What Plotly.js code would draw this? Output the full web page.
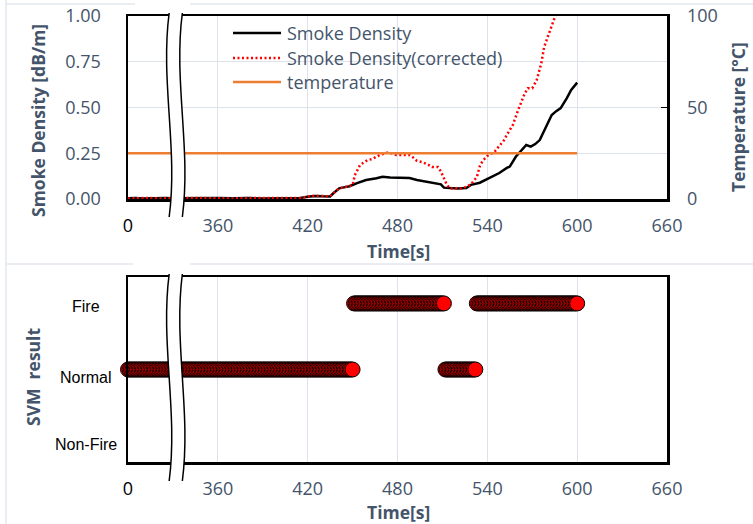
<!DOCTYPE html>
<html>
<head>
<meta charset="utf-8">
<script src="https://cdn.plot.ly/plotly-3.0.1.min.js"></script>
<style>
  html, body { margin: 0; padding: 0; background: #ffffff; }
  #chart { width: 753px; height: 524px; }
</style>
</head>
<body>
<div id="chart"></div>
<script>
// Time axis runs 300–660 s; the first tick stands for the start of the record (0 s)
// and a squiggle marks the skipped interval just after it.
const tickVals = [300, 360, 420, 480, 540, 600, 660];
const tickText = ['0', '360', '420', '480', '540', '600', '660'];

// Smoke density [dB/m]
const smokeTime = [300, 305, 310, 315, 320, 325, 330, 340, 350, 360, 370, 380, 390, 400, 410, 415,
  420, 425, 430, 435, 437, 441, 445, 448, 453, 459, 466, 470, 475, 481, 488, 493, 500, 505, 509, 511,
  515, 520, 526, 529, 535, 541, 548, 553, 555, 559, 562, 566, 569, 572, 575, 579, 583, 586, 589, 593, 596, 600];
const smokeDensity = [0.004, 0.006, 0.003, 0.005, 0.004, 0.006, 0.004, 0.005, 0.003, 0.005, 0.004, 0.006, 0.003, 0.005, 0.004, 0.006,
  0.012, 0.017, 0.015, 0.014, 0.030, 0.058, 0.065, 0.070, 0.087, 0.104, 0.113, 0.122, 0.118, 0.117, 0.115, 0.104, 0.095, 0.088, 0.080, 0.062,
  0.060, 0.058, 0.060, 0.077, 0.089, 0.113, 0.142, 0.170, 0.177, 0.231, 0.260, 0.295, 0.286, 0.300, 0.322, 0.395, 0.459, 0.480, 0.497, 0.550, 0.596, 0.636];

// Smoke density, corrected [dB/m]
const correctedTime = [300, 305, 310, 315, 320, 325, 330, 340, 350, 360, 370, 380, 390, 400, 410, 415,
  420, 425, 430, 435, 437, 441, 445, 448, 450, 451.5, 453, 455, 457, 460, 463, 466, 468, 473, 476, 479,
  483, 488, 490, 493, 497, 500, 503, 507, 509, 511, 513, 515, 519, 523, 526, 529, 533, 535, 537, 540,
  545, 548, 551, 553, 557, 561, 565, 567, 570, 573, 576, 578, 581, 585, 588];
const correctedDensity = [0.003, 0.005, 0.004, 0.006, 0.003, 0.005, 0.004, 0.006, 0.004, 0.005, 0.003, 0.005, 0.004, 0.006, 0.003, 0.005,
  0.013, 0.018, 0.016, 0.015, 0.030, 0.058, 0.066, 0.070, 0.075, 0.130, 0.158, 0.186, 0.197, 0.213, 0.218, 0.230, 0.240, 0.253, 0.250, 0.240,
  0.240, 0.240, 0.230, 0.208, 0.200, 0.190, 0.175, 0.175, 0.150, 0.110, 0.077, 0.058, 0.057, 0.058, 0.067, 0.080, 0.120, 0.180, 0.210, 0.235,
  0.260, 0.290, 0.320, 0.350, 0.404, 0.495, 0.577, 0.605, 0.605, 0.650, 0.740, 0.832, 0.905, 0.990, 1.060];

// Temperature [°C]
const tempTime = [300, 600];
const tempValue = [25, 25];

const seriesNames = ['Smoke Density', 'Smoke Density(corrected)', 'temperature'];

// SVM classification, one result per second, stored as runs
const svmCategories = ['Non-Fire', 'Normal', 'Fire'];
const svmRunStart = [300, 451, 512, 533];
const svmRunEnd = [450, 511, 532, 600];
const svmRunLabel = ['Normal', 'Fire', 'Normal', 'Fire'];

const svmTime = [], svmResult = [];
svmRunStart.forEach((s, i) => {
  for (let t = s; t <= svmRunEnd[i]; t++) { svmTime.push(t); svmResult.push(svmRunLabel[i]); }
});

// ---- geometry helpers (pixel -> paper) ----
const W = 753, H = 524;
const px = x => x / W;
const py = y => 1 - y / H;

const textBlue = '#44546a';
const gridCol = '#dde3ec';
const fontFam = '"Open Sans", "Noto Sans", sans-serif';
const dotted = '2px,2.5px';

const xCommon = {
  range: [300, 660], domain: [px(128), px(667)],
  tickvals: tickVals,
  ticktext: tickText.map(t => t === '0' ? '<span style="color:#000000">0</span>' : t),
  showgrid: true, gridcolor: gridCol, gridwidth: 1,
  showline: true, mirror: true, linecolor: '#000000', linewidth: 2.5,
  ticks: '', zeroline: false,
  tickfont: { family: fontFam, size: 18, color: textBlue },
  ticklabelstandoff: 9
};

const traces = [
  { x: tempTime, y: tempValue, name: seriesNames[2], type: 'scatter', mode: 'lines',
    xaxis: 'x', yaxis: 'y2', line: { color: '#ed7d31', width: 2.5 }, showlegend: false },
  { x: smokeTime, y: smokeDensity, name: seriesNames[0], type: 'scatter', mode: 'lines',
    xaxis: 'x', yaxis: 'y', line: { color: '#000000', width: 2.5 }, showlegend: false },
  { x: correctedTime, y: correctedDensity, name: seriesNames[1], type: 'scatter', mode: 'lines',
    xaxis: 'x', yaxis: 'y', line: { color: '#ff0000', width: 2.5, dash: dotted }, showlegend: false },
  { x: svmTime, y: svmResult, name: 'SVM result', type: 'scatter', mode: 'markers',
    xaxis: 'x2', yaxis: 'y3', cliponaxis: false, showlegend: false,
    marker: { size: 15, color: '#ff0000', line: { color: '#000000', width: 1 } } }
];

// axis break squiggle: white gap bounded by two wavy lines
const breakL = 327.5, breakR = 336.3, wave = 6;
function wavy(t, yT, yB) {
  const h = yB - yT;
  return `M ${t},${yT} C ${t - wave},${yT + h / 3} ${t + wave},${yT + 2 * h / 3} ${t},${yB}`;
}
function gap(yT, yB) {
  const h = yB - yT;
  return wavy(breakL, yT, yB) +
    ` L ${breakR},${yB} C ${breakR + wave},${yT + 2 * h / 3} ${breakR - wave},${yT + h / 3} ${breakR},${yT} Z`;
}
function breakShapes(xref, yT, yB) {
  return [
    { type: 'path', xref: xref, yref: 'paper', path: gap(yT, yB), fillcolor: '#ffffff', line: { width: 0 }, layer: 'above' },
    { type: 'path', xref: xref, yref: 'paper', path: wavy(breakL, yT, yB), line: { color: '#000000', width: 1.5 }, layer: 'above' },
    { type: 'path', xref: xref, yref: 'paper', path: wavy(breakR, yT, yB), line: { color: '#000000', width: 1.5 }, layer: 'above' }
  ];
}

// legend drawn by hand: sample lines + labels
const legendY = [33, 58, 82];
const legendStyle = [
  { color: '#000000', width: 2.5 },
  { color: '#ff0000', width: 2.5, dash: dotted },
  { color: '#ed7d31', width: 2.5 }
];
const legendShapes = legendY.map((y, i) => ({
  type: 'line', xref: 'paper', yref: 'paper', x0: px(233), x1: px(281), y0: py(y), y1: py(y),
  line: legendStyle[i]
}));
const legendText = legendY.map((y, i) => ({
  xref: 'paper', yref: 'paper', x: px(285), y: py(y), xanchor: 'left', yanchor: 'middle',
  text: seriesNames[i], showarrow: false, font: { family: fontFam, size: 18, color: textBlue }
}));

// faint frame lines around the panels
const frameCol = '#e3e7ee';
const frame = [
  [6, 4, 135, 4], [190, 4, 753, 4], [6, 264, 133, 264], [190, 264, 753, 264], [6, 0, 6, 524]
].map(([x0, y0, x1, y1]) => ({
  type: 'line', xref: 'paper', yref: 'paper', x0: px(x0), x1: px(x1), y0: py(y0), y1: py(y1),
  line: { color: frameCol, width: 1.5 }, layer: 'below'
}));

const titleFont = { family: fontFam, size: 17.5, color: textBlue };
const titles = [
  { text: '<b>Smoke Density [dB/m]</b>', x: px(38), y: py(121), textangle: -90 },
  { text: '<b>Temperature [°C]</b>', x: px(738), y: py(117), textangle: -90 },
  { text: '<b>Time[s]</b>', x: px(398), y: py(251), textangle: 0 },
  { text: '<b>SVM  result</b>', x: px(33), y: py(377), textangle: -90 },
  { text: '<b>Time[s]</b>', x: px(398), y: py(512), textangle: 0 }
].map(a => Object.assign({ xref: 'paper', yref: 'paper', xanchor: 'center', yanchor: 'middle',
  showarrow: false, font: titleFont }, a));

// category labels for the SVM panel
const catShift = { 'Fire': -3, 'Normal': -8, 'Non-Fire': -9 };
const catLabels = svmCategories.map((c, i) => ({
  xref: 'paper', yref: 'y3', x: px(86), y: i, yshift: catShift[c], xanchor: 'center', yanchor: 'middle',
  text: c, showarrow: false, font: { family: '"Liberation Sans", Arial, sans-serif', size: 16, color: '#000000' }
}));

const layout = {
  width: W, height: H,
  margin: { l: 0, r: 0, t: 0, b: 0 },
  paper_bgcolor: '#ffffff', plot_bgcolor: '#ffffff',
  showlegend: false,
  xaxis: Object.assign({}, xCommon, { anchor: 'y' }),
  xaxis2: Object.assign({}, xCommon, { anchor: 'y3' }),
  yaxis: {
    domain: [py(199), py(16)], range: [0, 1],
    tickvals: [0, 0.25, 0.5, 0.75, 1], tickformat: '.2f',
    showgrid: true, gridcolor: gridCol, gridwidth: 1,
    showline: true, mirror: true, linecolor: '#000000', linewidth: 2.5,
    ticks: '', zeroline: false,
    tickfont: { family: fontFam, size: 18, color: textBlue },
    ticklabelstandoff: 21
  },
  yaxis2: {
    overlaying: 'y', side: 'right', range: [0, 100],
    tickvals: [0, 50, 100],
    showgrid: false, showline: false, zeroline: false,
    ticks: 'inside', ticklen: 6, tickwidth: 1.5, tickcolor: '#000000',
    tickfont: { family: fontFam, size: 18, color: textBlue },
    ticklabelstandoff: 19
  },
  yaxis3: {
    domain: [py(462), py(277)], type: 'category', categoryarray: svmCategories, categoryorder: 'array',
    range: [-0.4, 2.4],
    showgrid: false, showticklabels: false, ticks: '', zeroline: false,
    showline: true, mirror: true, linecolor: '#000000', linewidth: 2.5
  },
  shapes: frame
    .concat(breakShapes('x', py(13), py(217)))
    .concat(breakShapes('x2', py(274), py(481)))
    .concat(legendShapes),
  annotations: titles.concat(legendText).concat(catLabels)
};

Plotly.newPlot('chart', traces, layout, { displayModeBar: false, staticPlot: true });
</script>
</body>
</html>
